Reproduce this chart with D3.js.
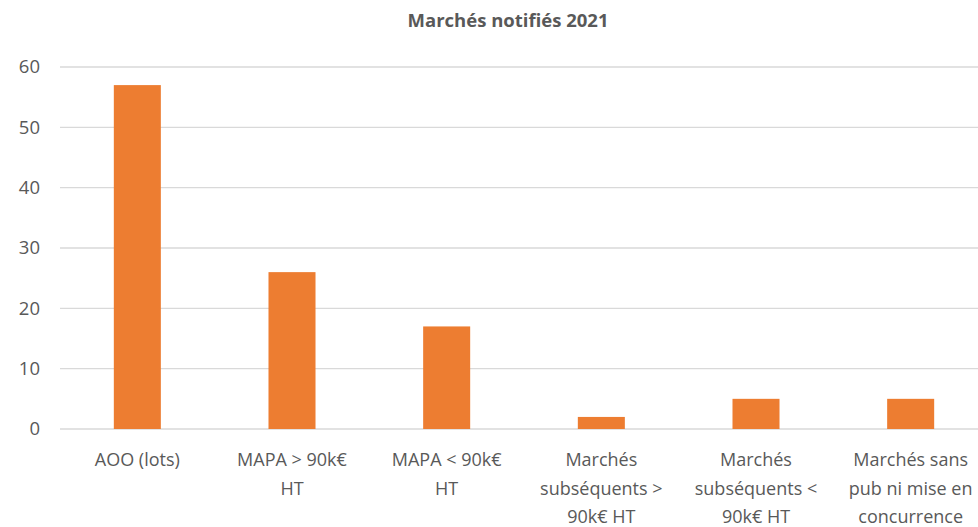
<!DOCTYPE html>
<html>
<head>
<meta charset="utf-8">
<script src="https://cdn.jsdelivr.net/npm/d3@7"></script>
<style>
  body { margin: 0; background: #fff; }
  svg { display: block; }
</style>
</head>
<body>
<div id="chart"></div>
<script>
// data
const categories = [
  "AOO (lots)",
  "MAPA > 90k€ HT",
  "MAPA < 90k€ HT",
  "Marchés subséquents > 90k€ HT",
  "Marchés subséquents < 90k€ HT",
  "Marchés sans pub ni mise en concurrence"
]
const labelLines = [
  ["AOO (lots)"],
  ["MAPA > 90k€", "HT"],
  ["MAPA < 90k€", "HT"],
  ["Marchés", "subséquents >", "90k€ HT"],
  ["Marchés", "subséquents <", "90k€ HT"],
  ["Marchés sans", "pub ni mise en", "concurrence"]
]
const values = [57, 26, 17, 2, 5, 5]
const yTicks = [0, 10, 20, 30, 40, 50, 60]

const width = 978
const height = 527
const margins = { left: 60, right: -10, top: 67, bottom: 98 }

const svg = d3
  .select("#chart")
  .append("svg")
  .attr("width", width)
  .attr("height", height)

// title
svg
  .append("text")
  .attr("x", 508)
  .attr("y", 27)
  .attr("text-anchor", "middle")
  .attr("font-family", "'Liberation Sans Narrow', 'Open Sans', sans-serif")
  .attr("font-weight", "bold")
  .attr("font-size", 18.5)
  .attr("fill", "#595959")
  .text("Marchés notifiés 2021")

// scales
const xScale = d3
  .scaleBand()
  .domain(categories)
  .range([margins.left, width - margins.right])
  .paddingInner(0.696)
  .paddingOuter(0.348)

const yScale = d3
  .scaleLinear()
  .domain([0, 60])
  .range([height - margins.bottom, margins.top])

// gridlines
svg
  .append("g")
  .selectAll("line")
  .data(yTicks)
  .enter()
  .append("line")
  .attr("x1", margins.left)
  .attr("x2", width)
  .attr("y1", (d) => yScale(d))
  .attr("y2", (d) => yScale(d))
  .attr("stroke", "#d9d9d9")
  .attr("stroke-width", 1.3)

// y axis labels
const yAxis = d3.axisLeft(yScale).tickValues(yTicks).tickSize(0).tickPadding(0)
const yG = svg.append("g").attr("transform", `translate(40, 0)`).call(yAxis)
yG.select(".domain").remove()
yG.selectAll("text")
  .attr("font-family", "'Open Sans', sans-serif")
  .attr("font-size", 18.5)
  .attr("fill", "#595959")

// bars
svg
  .selectAll("rect")
  .data(values)
  .enter()
  .append("rect")
  .attr("x", (d, i) => xScale(categories[i]))
  .attr("y", (d) => yScale(d))
  .attr("width", xScale.bandwidth())
  .attr("height", (d) => yScale(0) - yScale(d))
  .attr("fill", "#ED7D31")

// x labels (wrapped over several lines like the original)
const xLabels = svg
  .append("g")
  .selectAll("text")
  .data(categories)
  .enter()
  .append("text")
  .attr("x", (d) => xScale(d) + xScale.bandwidth() / 2)
  .attr("y", 466)
  .attr("text-anchor", "middle")
  .attr("font-family", "'Open Sans', sans-serif")
  .attr("font-size", 18)
  .attr("fill", "#595959")

xLabels
  .selectAll("tspan")
  .data((d, i) => labelLines[i])
  .enter()
  .append("tspan")
  .attr("x", function () {
    return this.parentNode.getAttribute("x")
  })
  .attr("dy", (d, i) => (i === 0 ? 0 : 28.5))
  .text((d) => d)
</script>
</body>
</html>
